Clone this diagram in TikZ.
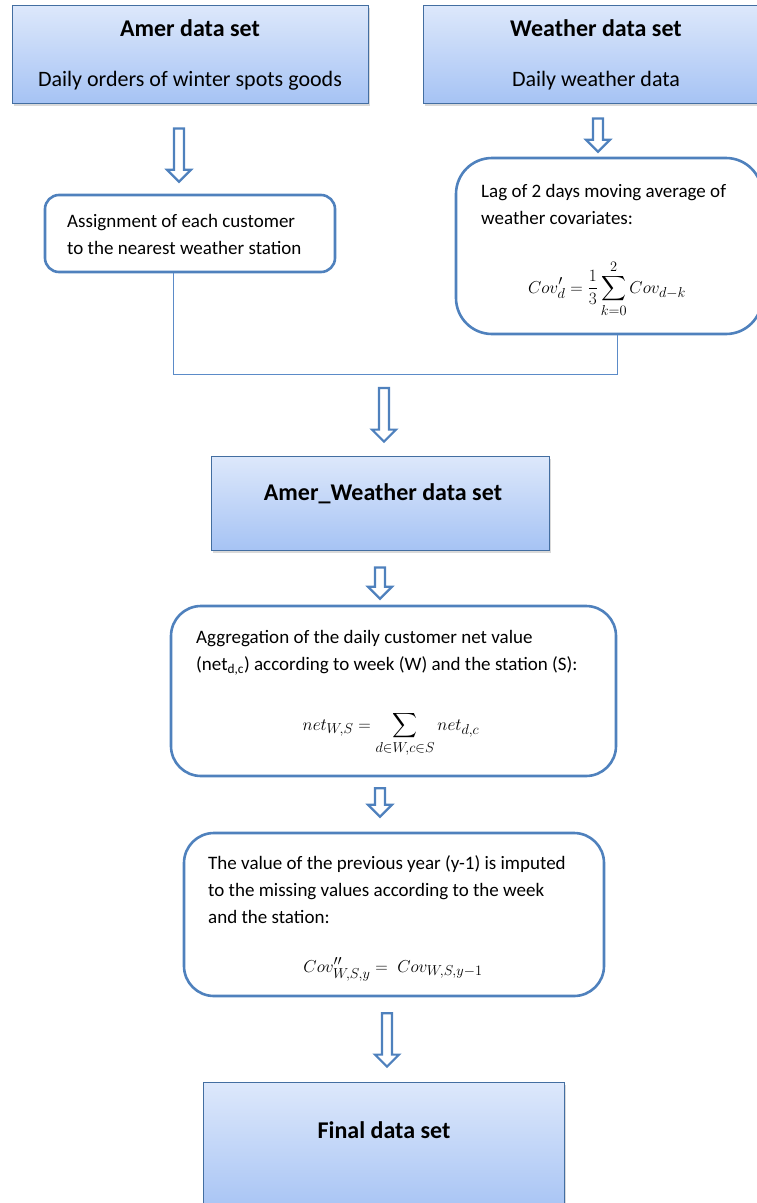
\documentclass[tikz,border=0pt]{standalone}
\usepackage{amsmath}
\usepackage{fontspec}
\setmainfont{Carlito}
\usetikzlibrary{positioning,shadows,calc}
\definecolor{boxline}{HTML}{4F81BD}
\definecolor{joinblue}{HTML}{5B8BC8}
\definecolor{gradtop}{HTML}{DDE8FB}
\definecolor{gradbot}{HTML}{A6C3F4}
\tikzset{
  databox/.style={rectangle, draw=boxline!85!black, line width=0.8pt,
    top color=gradtop, bottom color=gradbot, inner sep=0pt,
    drop shadow={shadow xshift=1.5pt, shadow yshift=-2.5pt, opacity=0.3}},
  stepbox/.style={rectangle, rounded corners=#1, draw=boxline, line width=2.6pt,
    fill=white, inner sep=0pt},
  steptext/.style={anchor=north west, inner sep=0pt, align=left, font=\fontsize{19}{27}\selectfont},
  formula/.style={anchor=base, inner sep=0pt, font=\fontsize{19}{27}\selectfont},
  titletext/.style={anchor=base, font=\bfseries\fontsize{24}{28}\selectfont},
  subtext/.style={anchor=base, font=\fontsize{22}{26}\selectfont},
  hollow/.style={draw=boxline, line width=2.2pt, fill=white, line join=miter},
  joinline/.style={draw=joinblue, line width=1pt}
}
% hollow block arrow from #1 (top of shaft) to #2 (tip)
\newcommand\blockarrow[2]{%
  \draw[hollow] let \p1=(#1), \p2=(#2) in
    (\x1-5pt,\y1) -- (\x1+5pt,\y1) -- (\x1+5pt,\y2+12pt) -- (\x1+12pt,\y2+12pt)
    -- (\x1,\y2) -- (\x1-12pt,\y2+12pt) -- (\x1-5pt,\y2+12pt) -- cycle;}
\begin{document}
\begin{tikzpicture}[x=1pt,y=-1pt]
  \useasboundingbox (0,0) rectangle (757,1203);

  % input data sets
  \node[databox, minimum width=356pt, minimum height=98pt] (amer) at (190,54) {};
  \node[titletext] (amertitle) at (190,36) {Amer data set};
  \node[subtext] (amersub) at (190,86) {Daily orders of winter spots goods};
  \node[databox, minimum width=346pt, minimum height=98pt] (weather) at (596,54) {};
  \node[titletext] (weathertitle) at (596,36) {Weather data set};
  \node[subtext] (weathersub) at (596,86) {Daily weather data};

  % preparation steps
  \node[stepbox=14pt, minimum width=290pt, minimum height=77pt] (assign) at (190,233.5) {};
  \node[steptext] (assigntext) at (67,208)
    {\strut Assignment of each customer\\ to the nearest weather station};

  \node[stepbox=36pt, minimum width=306pt, minimum height=176pt] (lag) at (609,246) {};
  \node[steptext] (lagtext) at (481,178)
    {\strut Lag of 2 days moving average of\\ weather covariates:};
  \node[formula] (lageq) at (607,293)
    {$\displaystyle Cov'_d=\frac{1}{3}\sum_{k=0}^{2}Cov_{d-k}$};

  \coordinate (join) at (384,374);
  \draw[joinline] ([xshift=-17pt]assign.south) |- ([xshift=8pt]lag.south |- join) -- ([xshift=8pt]lag.south);

  \node[databox, minimum width=338pt, minimum height=94pt] (aw) at (380,503) {};
  \node[titletext] (awtitle) at (383,500) {Amer\_Weather data set};

  \node[stepbox=30pt, minimum width=445pt, minimum height=170pt] (aggr) at (393.5,691) {};
  \node[steptext] (aggrtext) at (196,624)
    {\strut Aggregation of the daily customer net value\\ (net\textsubscript{d,c}) according to week (W) and the station (S):};
  \node[formula] (aggreq) at (391,730)
    {$\displaystyle net_{W,S}=\sum_{d\in W,c\in S}net_{d,c}$};

  \node[stepbox=30pt, minimum width=420pt, minimum height=163pt] (impute) at (394,914.5) {};
  \node[steptext] (imputetext) at (208,850)
    {\strut The value of the previous year (y-1) is imputed\\ to the missing values according to the week\\ and the station:};
  \node[formula] (imputeeq) at (393,972)
    {$Cov''_{W,S,y}=\;Cov_{W,S,y-1}$};

  \node[databox, minimum width=361pt, minimum height=132pt] (final) at (384,1148) {};
  \node[titletext] (finaltitle) at (384,1138) {Final data set};

  % block arrows
  \blockarrow{$(amer.south)+(-11,25)$}{$(assign.north)+(-11,-12)$}
  \blockarrow{$(weather.south)+(2,15)$}{$(lag.north)+(-11,-5)$}
  \blockarrow{$(join)+(0,14)$}{$(aw.north)+(4,-14)$}
  \blockarrow{$(aw.south)+(0,17)$}{$(aggr.north)+(-13.5,-6)$}
  \blockarrow{$(aggr.south)+(-13.5,11)$}{$(impute.north)+(-14,-15)$}
  \blockarrow{$(impute.south)+(-7,16)$}{$(final.north)+(0.5,-15)$}
\end{tikzpicture}
\end{document}
